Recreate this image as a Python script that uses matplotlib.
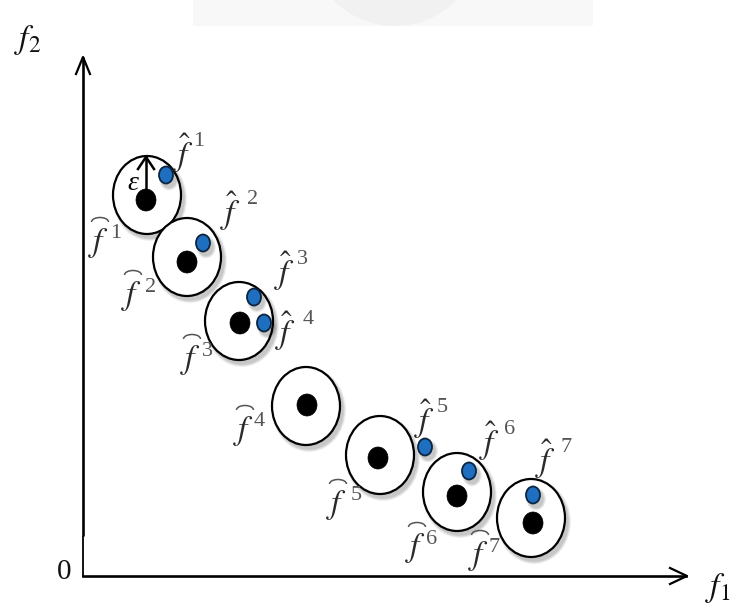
import matplotlib
matplotlib.use("Agg")
import matplotlib.pyplot as plt
from matplotlib.patches import Ellipse, Rectangle, Circle, Arc

plt.rcParams["mathtext.fontset"] = "stix"
plt.rcParams["font.family"] = ["Liberation Serif", "DejaVu Serif"]

# Neighbourhood circles (centres, in canvas pixels)
circle_x = [147, 187, 239, 306, 380, 457, 531]
circle_y = [195, 257, 321, 406, 455, 492, 518]

# True Pareto points (black) and approximations (blue)
true_x = [146, 187, 240, 307, 378, 457, 533]
true_y = [200, 262, 323, 405, 458, 496, 523]
approx_x = [166, 203, 254, 264, 425, 469, 533]
approx_y = [175, 243, 297, 323, 447, 471, 495]

# Label indices and anchors (position of the letter f)
indices = ["1", "2", "3", "4", "5", "6", "7"]
hat_fx = [184, 231, 285, 286, 425, 490, 546]
hat_fy = [153, 211, 271, 331, 419, 441, 459]
hat_dx = [15, 22, 17, 22, 17, 20, 20]
arc_fx = [99, 132, 191, 244, 337, 416, 479]
arc_fy = [243, 296, 360, 431, 505, 548, 556]
arc_dx = [17, 19, 16, 15, 19, 16, 15]

W, H = 734, 606
fig = plt.figure(figsize=(W / 100, H / 100), dpi=100)
ax = fig.add_axes([0, 0, 1, 1])
ax.set_xlim(0, W)
ax.set_ylim(H, 0)
ax.axis("off")

# faint banner at the top
ax.add_patch(Rectangle((193, 0), 400, 26, facecolor="#f8f8f8", edgecolor="none", zorder=0))
ax.add_patch(Circle((395, -60), 86, facecolor="#f1f1f1", edgecolor="none", zorder=0.5))
ax.add_patch(Rectangle((193, 26), 400, 200, facecolor="white", edgecolor="none", zorder=0.6))

CW, CH = 68, 78

def shadow(x, y, w, h, z):
    for k, a in enumerate([0.05, 0.05, 0.06, 0.07]):
        grow = 6 - 1.5 * k
        ax.add_patch(Ellipse((x + 3, y + 4), w + grow, h + grow, facecolor="black",
                             edgecolor="none", alpha=a, zorder=z))

for x, y in zip(circle_x, circle_y):
    shadow(x, y, CW, CH, 1)
    ax.add_patch(Ellipse((x, y), CW, CH, facecolor="white", edgecolor="black", lw=1.6, zorder=2))

for x, y in zip(true_x, true_y):
    ax.add_patch(Ellipse((x, y), 20, 22, facecolor="black", edgecolor="black", lw=0.5, zorder=4))

for x, y in zip(approx_x, approx_y):
    shadow(x, y, 14, 17, 3)
    ax.add_patch(Ellipse((x, y), 14, 17, facecolor="#1f6fc0", edgecolor="#0b2540", lw=1.3, zorder=5))

# epsilon radius arrow in the first circle
ex, ey0, ey1 = circle_x[0] - 1, true_y[0] - 8, circle_y[0] - CH / 2 + 1
ax.plot([ex, ex], [ey0, ey1], color="black", lw=1.8, zorder=6)
ax.plot([ex - 8, ex, ex + 8], [ey1 + 12, ey1, ey1 + 12], color="black", lw=1.8, zorder=6)
ax.text(133, 184, "ε", fontsize=20, style="italic", ha="center", va="center", zorder=7)

# axes with open arrow heads
ax.plot([83, 83], [57, 536], color="black", lw=1.9, solid_capstyle="butt")
ax.plot([83, 83], [536, 577], color="black", lw=1.3, solid_capstyle="butt")
ax.plot([76, 83, 90], [74, 57, 74], color="black", lw=1.6)
ax.plot([83, 686], [576, 576], color="black", lw=1.9)
ax.plot([670, 687, 670], [568, 576, 584], color="black", lw=1.6)

ax.text(28, 40, r"$f_2$", fontsize=24, ha="center", va="center", color="#111111")
ax.text(718, 588, r"$f_1$", fontsize=24, ha="center", va="center", color="#111111")
ax.text(64, 572, "0", fontsize=21, ha="center", va="center", color="#111111")

TXT = "#2a2a2a"
FS, SFS = 24, 16

# labels of the approximations: f with a hat
for s, x, y, dx in zip(indices, hat_fx, hat_fy, hat_dx):
    ax.text(x, y, r"$\hat{f}$", fontsize=FS, ha="center", va="center", color=TXT, zorder=8)
    ax.text(x + dx, y - 12, s, fontsize=SFS, ha="center", va="center", color="#555555", zorder=8)

# labels of the true points: f with an arc above (y axis is inverted, so the
# upper half of the arc on screen is theta 180..360)
for s, x, y, dx in zip(indices, arc_fx, arc_fy, arc_dx):
    ax.text(x, y, r"$f$", fontsize=FS, ha="center", va="center", color=TXT, zorder=8)
    ax.add_patch(Arc((x + 1, y - 21), 17, 9, theta1=180, theta2=360, color="#555555", lw=1.1, zorder=8))
    ax.text(x + dx, y - 9, s, fontsize=SFS, ha="center", va="center", color="#555555", zorder=8)

fig.savefig("out.png", dpi=100)
